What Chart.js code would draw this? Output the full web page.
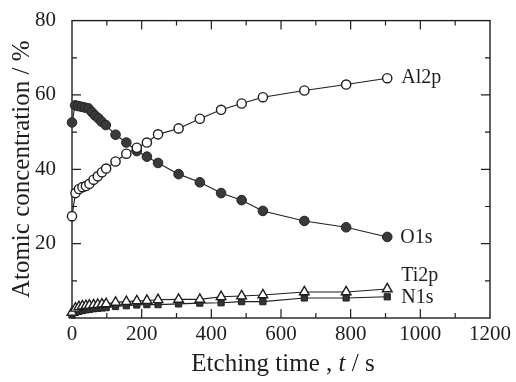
<!DOCTYPE html>
<html>
<head>
<meta charset="utf-8">
<script src="https://cdn.jsdelivr.net/npm/chart.js@4.4.0/dist/chart.umd.min.js"></script>
<style>
  html, body { margin: 0; padding: 0; background: #fff; }
  #wrap { width: 516px; height: 382px; }
</style>
</head>
<body>
<div id="wrap"><canvas id="chart"></canvas></div>
<script>
// Etching time (s)
const timeAl = [0, 10, 20, 30, 40, 50, 62, 74, 86, 98, 125, 156, 186, 215, 247, 306, 367, 428, 487, 548, 667, 787, 905];
const timeO = [0, 9, 18, 28, 37, 47, 57, 66, 76, 85, 97, 125, 156, 186, 215, 247, 306, 367, 428, 487, 548, 667, 787, 905];

// Atomic concentration (%)
const al2p = [27.4, 33.6, 34.7, 35.2, 35.5, 36.1, 37.2, 38.1, 39.2, 40.2, 42.1, 44.2, 45.8, 47.2, 49.4, 51.0, 53.6, 56.0, 57.7, 59.4, 61.2, 62.8, 64.5];
const o1s = [52.6, 57.2, 57.0, 56.8, 56.6, 56.4, 55.4, 54.5, 53.7, 52.8, 51.9, 49.3, 47.2, 44.9, 43.4, 41.7, 38.7, 36.5, 33.6, 31.7, 28.8, 26.1, 24.4, 21.8];
const ti2p = [1.5, 2.6, 3.0, 3.2, 3.3, 3.4, 3.5, 3.6, 3.7, 3.8, 4.2, 4.4, 4.6, 4.7, 4.9, 5.0, 5.0, 5.7, 5.9, 6.2, 7.0, 7.0, 7.8];
const n1s = [0.8, 1.5, 1.8, 2.0, 2.2, 2.3, 2.5, 2.6, 2.7, 2.8, 3.1, 3.3, 3.5, 3.6, 3.6, 3.8, 4.0, 4.1, 4.4, 4.4, 5.4, 5.4, 5.7];

const seriesNames = ['Al2p', 'O1s', 'Ti2p', 'N1s'];
const xTicks = [0, 200, 400, 600, 800, 1000, 1200];
const yTicks = [0, 20, 40, 60, 80];

const ink = '#1e1e1e';
const serif = '"Liberation Serif", "DejaVu Serif", serif';

function pairs(xs, ys) {
    return ys.map((y, i) => ({ x: xs[i], y: y }));
}

// inward ticks on all four sides plus the box
const framePlugin = {
    id: 'frame',
    beforeDatasetsDraw(chart) {
        const { ctx, chartArea: a, scales: { x, y } } = chart;
        ctx.save();
        ctx.strokeStyle = ink;
        ctx.lineWidth = 1.4;
        ctx.strokeRect(a.left, a.top, a.right - a.left, a.bottom - a.top);
        ctx.lineWidth = 1.2;
        ctx.beginPath();
        for (let v = 100; v < 1200; v += 100) {
            const px = x.getPixelForValue(v);
            const len = v % 200 === 0 ? 9 : 5;
            ctx.moveTo(px, a.bottom); ctx.lineTo(px, a.bottom - len);
            ctx.moveTo(px, a.top); ctx.lineTo(px, a.top + len);
        }
        for (let v = 10; v < 80; v += 10) {
            const py = y.getPixelForValue(v);
            const len = v % 20 === 0 ? 9 : 5;
            ctx.moveTo(a.left, py); ctx.lineTo(a.left + len, py);
            ctx.moveTo(a.right, py); ctx.lineTo(a.right - len, py);
        }
        ctx.stroke();
        ctx.restore();
    },
    afterDraw(chart) {
        // x title with italic t
        const { ctx, chartArea: a } = chart;
        ctx.save();
        ctx.fillStyle = ink;
        ctx.textBaseline = 'middle';
        const parts = [['Etching time , ', '25px ' + serif], ['t', 'italic 25px ' + serif], [' / s', '25px ' + serif]];
        let total = 0;
        parts.forEach(p => { ctx.font = p[1]; total += ctx.measureText(p[0]).width; });
        let cx = (a.left + a.right) / 2 + 2 - total / 2;
        parts.forEach(p => {
            ctx.font = p[1];
            ctx.fillText(p[0], cx, 364);
            cx += ctx.measureText(p[0]).width;
        });
        ctx.restore();
    }
};

// series names next to the last point
const labelOffsets = [[14, 0], [13, 1], [14, -13], [14, 1]];
const namePlugin = {
    id: 'names',
    afterDatasetsDraw(chart) {
        const { ctx } = chart;
        ctx.save();
        ctx.fillStyle = ink;
        ctx.font = '20px ' + serif;
        ctx.textBaseline = 'middle';
        chart.data.datasets.forEach((ds, i) => {
            const pts = chart.getDatasetMeta(i).data;
            const last = pts[pts.length - 1];
            ctx.fillText(seriesNames[i], last.x + labelOffsets[i][0], last.y + labelOffsets[i][1]);
        });
        ctx.restore();
    }
};

const ctx = document.getElementById('chart').getContext('2d');
new Chart(ctx, {
    type: 'line',
    data: {
        datasets: [
            {
                label: seriesNames[0], data: pairs(timeAl, al2p),
                borderColor: ink, borderWidth: 1.1, pointStyle: 'circle', pointRadius: 4.6,
                pointBackgroundColor: '#fff', pointBorderColor: ink, pointBorderWidth: 1.4, clip: false
            },
            {
                label: seriesNames[1], data: pairs(timeO, o1s),
                borderColor: ink, borderWidth: 1.1, pointStyle: 'circle', pointRadius: 4.8,
                pointBackgroundColor: '#3a3a3a', pointBorderColor: '#222', pointBorderWidth: 1, clip: false
            },
            {
                label: seriesNames[2], data: pairs(timeAl, ti2p),
                borderColor: ink, borderWidth: 1.1, pointStyle: 'triangle', pointRadius: 5.6,
                pointBackgroundColor: '#fff', pointBorderColor: ink, pointBorderWidth: 1.4, clip: false
            },
            {
                label: seriesNames[3], data: pairs(timeAl, n1s),
                borderColor: ink, borderWidth: 1.1, pointStyle: 'rect', pointRadius: 4.4,
                pointBackgroundColor: '#333', pointBorderColor: '#222', pointBorderWidth: 1, clip: false
            }
        ]
    },
    options: {
        responsive: true,
        maintainAspectRatio: false,
        animation: false,
        layout: { padding: { top: 20, right: 26, left: 0, bottom: 0 } },
        plugins: { legend: { display: false }, tooltip: { enabled: false } },
        elements: { line: { tension: 0 } },
        scales: {
            x: {
                type: 'linear', min: 0, max: 1200,
                afterFit: s => { s.height = 64; },
                afterBuildTicks: s => { s.ticks = xTicks.map(v => ({ value: v })); },
                grid: { display: false },
                border: { display: false },
                ticks: {
                    color: ink, padding: -4, maxRotation: 0, font: { family: serif, size: 21 },
                    callback: v => String(v)
                }
            },
            y: {
                min: 0, max: 80,
                afterFit: s => { s.width = 72; },
                afterBuildTicks: s => { s.ticks = yTicks.map(v => ({ value: v })); },
                grid: { display: false },
                border: { display: false },
                ticks: {
                    color: ink, padding: 8, font: { family: serif, size: 21 },
                    callback: v => (v === 0 ? '' : String(v))
                },
                title: {
                    display: true, text: 'Atomic concentration / %', color: ink,
                    font: { family: serif, size: 25 }, padding: { top: 7, bottom: 0 }
                }
            }
        }
    },
    plugins: [framePlugin, namePlugin]
});
</script>
</body>
</html>
